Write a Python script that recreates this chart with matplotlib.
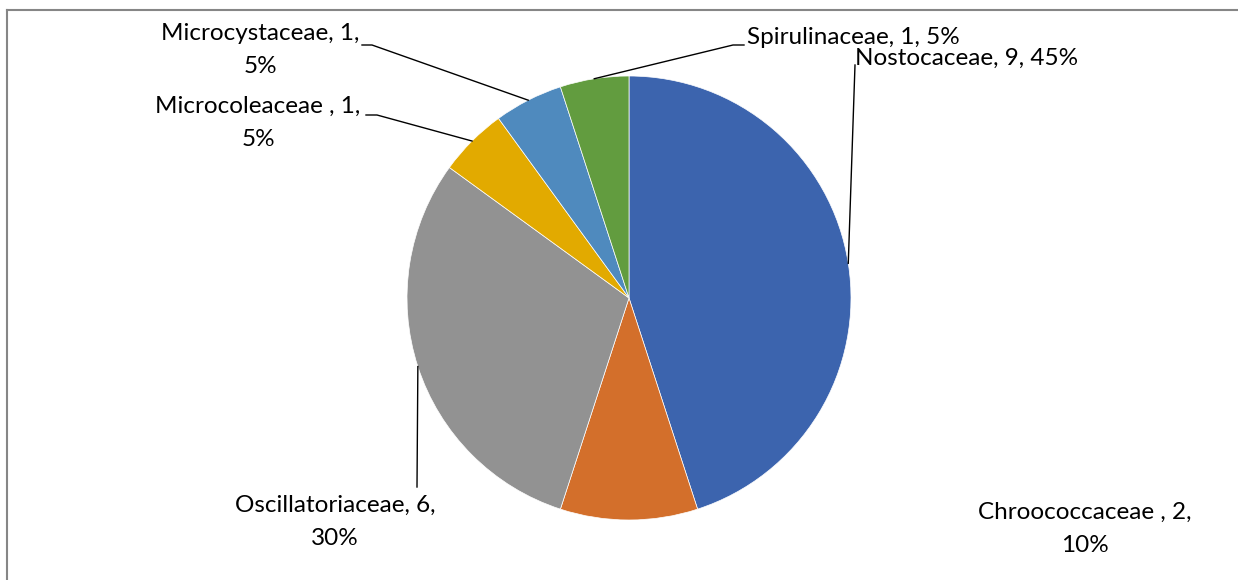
import numpy as np
import matplotlib.pyplot as plt

families = ['Nostocaceae', 'Chroococcaceae ', 'Oscillatoriaceae', 'Microcoleaceae ',
            'Microcystaceae', 'Spirulinaceae']
counts = [9, 2, 6, 1, 1, 1]
colors = ['#3C64AE', '#D36F2B', '#929292', '#E2AA00', '#4F8ABE', '#629C3F']

W, H = 1238, 580
cx, cy, R = 629, 298, 222

# label layout in pixel coords (x, y from top); split = break before percent
label_pos = [(967, 58), (1085, 529), (335, 522), (258, 123), (260, 50), (853, 37)]
label_split = [False, True, True, True, True, False]
# elbow of leader line (None = no leader), then end next to text
elbows = [None, None, None, (377, 115), (372, 45), (733, 45)]
ends = [(855, 65), None, (417, 487), (366, 115), (362, 45), (744, 45)]

plt.rcParams['font.family'] = ['Lato', 'DejaVu Sans']
fig = plt.figure(figsize=(W / 100, H / 100), dpi=100)
ax = fig.add_axes([0, 0, 1, 1])

wedges, _ = ax.pie(counts, colors=colors, startangle=90, counterclock=False,
                   center=(cx, H - cy), radius=R, frame=True,
                   wedgeprops=dict(linewidth=0.5, edgecolor='white'))
ax.set_xlim(0, W)
ax.set_ylim(0, H)
ax.set_aspect('equal')
ax.axis('off')

total = sum(counts)
for i, w in enumerate(wedges):
    pct = round(100 * counts[i] / total)
    sep = '\n' if label_split[i] else ' '
    txt = f'{families[i]}, {counts[i]},{sep}{pct}%'
    lx, ly = label_pos[i]
    ax.text(lx, H - ly, txt, ha='center', va='center', fontsize=17.5,
            linespacing=1.7, color='black')
    if ends[i] is None:
        continue
    ang = np.deg2rad((w.theta1 + w.theta2) / 2)
    px, py = cx + R * np.cos(ang), (H - cy) + R * np.sin(ang)
    xs, ys = [px], [py]
    if elbows[i] is not None:
        xs.append(elbows[i][0]); ys.append(H - elbows[i][1])
    xs.append(ends[i][0]); ys.append(H - ends[i][1])
    ax.plot(xs, ys, color='black', lw=1.0)

# chart border (top and left visible)
ax.plot([7, W], [H - 10, H - 10], color='#868686', lw=1.5)
ax.plot([7, 7], [H - 10, 0], color='#868686', lw=1.5)

fig.savefig('out.png', dpi=100)
